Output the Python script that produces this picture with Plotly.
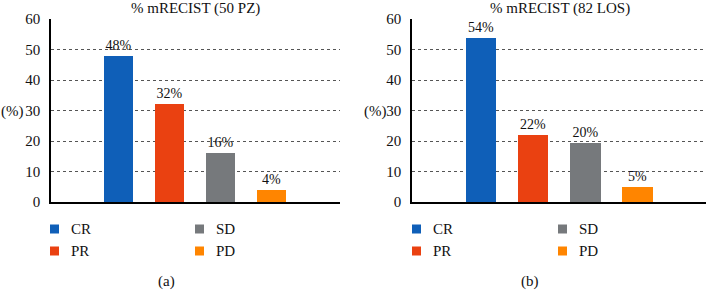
import plotly.graph_objects as go

categories = ["CR", "PR", "SD", "PD"]
colors = ["#0f5fb8", "#ea4111", "#76797c", "#ff8500"]
values_a = [48, 32, 16, 4]
values_b = [53.7, 22.0, 19.5, 4.9]
titles = ["% mRECIST (50 PZ)", "% mRECIST (82 LOS)"]
captions = ["(a)", "(b)"]
y_ticks = [0, 10, 20, 30, 40, 50, 60]

W, H = 706, 290
SERIF = "Liberation Serif"
TXT = "#111"

fig = go.Figure()
for panel, vals in enumerate([values_a, values_b]):
    xa = "x" if panel == 0 else "x2"
    ya = "y" if panel == 0 else "y2"
    for cat, col, v in zip(categories, colors, vals):
        fig.add_trace(go.Bar(
            x=[cat], y=[v], name=cat, marker=dict(color=col, line=dict(width=0)),
            width=0.58, text=[f"{v:.0f}%"], textposition="outside",
            textfont=dict(family=SERIF, size=14, color=TXT),
            cliponaxis=False, xaxis=xa, yaxis=ya, showlegend=False,
        ))

ydom = [88 / H, 271 / H]
axis_common = dict(showgrid=False, showline=True, linecolor="#000", linewidth=1.5,
                   showticklabels=False, ticks="", categoryorder="array",
                   categoryarray=categories, fixedrange=True)
yaxis_common = dict(range=[0, 60], tickvals=y_ticks, showgrid=True, gridcolor="#555",
                    griddash="dot", gridwidth=1, showline=True, linecolor="#000",
                    linewidth=1.5, ticks="", ticklabelstandoff=6, zeroline=False,
                    tickfont=dict(family=SERIF, size=15, color=TXT))

fig.update_layout(
    width=W, height=H, margin=dict(l=0, r=0, t=0, b=0, autoexpand=False),
    paper_bgcolor="white", plot_bgcolor="white", bargap=0, showlegend=False,
    xaxis=dict(domain=[51 / W, 340 / W], range=[-1.32, 4.34], anchor="y", **axis_common),
    yaxis=dict(domain=ydom, anchor="x", **yaxis_common),
    xaxis2=dict(domain=[412 / W, 1.0], range=[-1.32, 4.31], anchor="y2", **axis_common),
    yaxis2=dict(domain=ydom, anchor="x2", **yaxis_common),
)

title_x = [195, 560]
cap_x = [166, 530]
perc_x = [12, 375]
# legend layout (column-major: CR, PR | SD, PD)
leg_col_x = [[50, 195], [412, 558]]
leg_row_y = [229, 251]
leg_items = [[0, 1], [2, 3]]  # indices into categories per column
SQ = 9

for i in range(2):
    fig.add_annotation(text=titles[i], x=title_x[i] / W, y=(H - 8) / H, xref="paper", yref="paper",
                       showarrow=False, font=dict(family=SERIF, size=15, color=TXT),
                       xanchor="center", yanchor="middle")
    fig.add_annotation(text=captions[i], x=cap_x[i] / W, y=(H - 281) / H, xref="paper", yref="paper",
                       showarrow=False, font=dict(family=SERIF, size=15, color=TXT),
                       xanchor="center", yanchor="middle")
    fig.add_annotation(text="(%)", x=perc_x[i] / W, y=(H - 111) / H, xref="paper", yref="paper",
                       showarrow=False, font=dict(family=SERIF, size=15, color=TXT),
                       xanchor="center", yanchor="middle")
    for c in range(2):
        for r in range(2):
            k = leg_items[c][r]
            x0 = leg_col_x[i][c]
            yc = leg_row_y[r]
            fig.add_shape(type="rect", xref="paper", yref="paper",
                          x0=x0 / W, x1=(x0 + SQ) / W,
                          y0=(H - yc - SQ / 2) / H, y1=(H - yc + SQ / 2) / H,
                          fillcolor=colors[k], line=dict(width=0))
            fig.add_annotation(text=categories[k], x=(x0 + SQ + 10) / W, y=(H - yc) / H,
                               xref="paper", yref="paper", showarrow=False,
                               font=dict(family=SERIF, size=15, color=TXT),
                               xanchor="left", yanchor="middle")

fig.write_html("out.html", config={"displayModeBar": False},
               post_script="document.body.style.margin='0px';document.body.style.overflow='hidden';")
